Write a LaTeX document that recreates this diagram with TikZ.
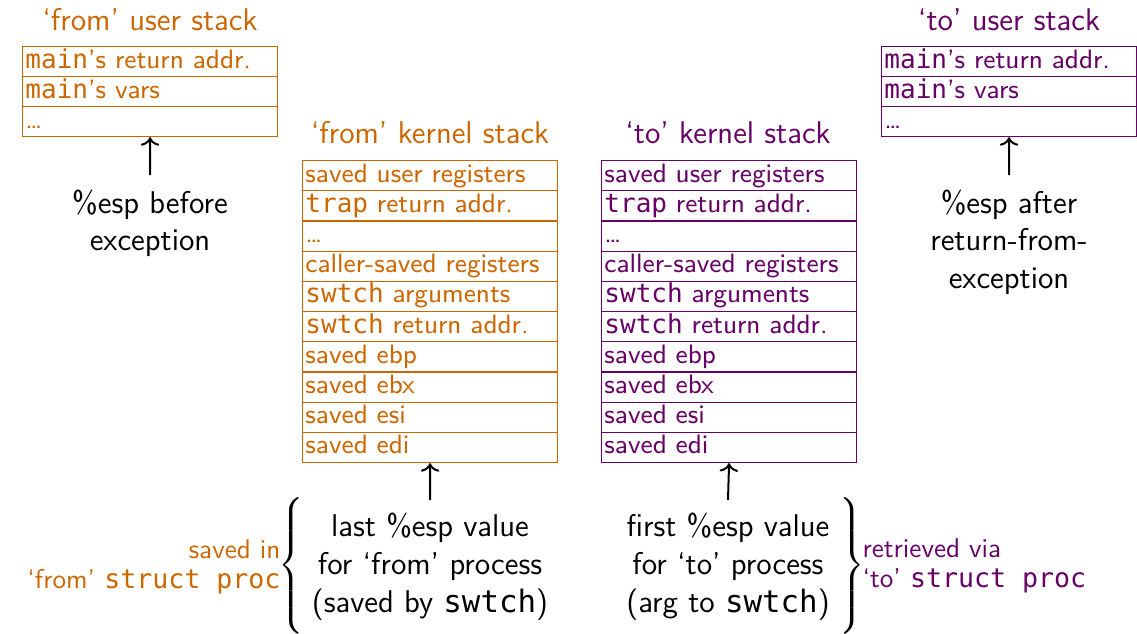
\documentclass[tikz,border=0pt]{standalone}
\usepackage{fontspec}
\setmonofont{DejaVu Sans Mono}[Scale=0.98]
\usetikzlibrary{arrows.meta}
\definecolor{fromc}{RGB}{204,102,0}
\definecolor{toc}{RGB}{102,0,102}
\begin{document}
\begin{tikzpicture}[x=0.35pt, y=-0.35pt, font=\sffamily,
  row/.style={draw, line width=0.4pt, minimum width=89.25pt, minimum height=10.5pt,
    text width=87.25pt, inner xsep=1pt, inner ysep=0pt, text height=6.5pt, text depth=2pt,
    align=left, font=\sffamily\fontsize{9.3}{11}\selectfont, anchor=north west},
  krow/.style={row, minimum height=10.57pt},
  big/.style={font=\sffamily\fontsize{11}{13.1}\selectfont, align=center, inner sep=0pt},
  side/.style={font=\sffamily\fontsize{9.5}{10.3}\selectfont, inner sep=0pt},
  ptr/.style={-{Computer Modern Rightarrow[length=3pt,width=6.5pt]}, line width=0.7pt}]
\useasboundingbox (0,0) rectangle (1137,633);

% titles
\node[big, anchor=base, text=fromc] (t1) at (150,30) {‘from’ user stack};
\node[big, anchor=base, text=fromc] (t2) at (430,143) {‘from’ kernel stack};
\node[big, anchor=base, text=toc] (t3) at (728,143) {‘to’ kernel stack};
\node[big, anchor=base, text=toc] (t4) at (1009,30) {‘to’ user stack};

% user stacks
\foreach \t [count=\i] in {\texttt{main}'s return addr., \texttt{main}'s vars, \ldots}{
  \node[row, draw=fromc, text=fromc] (fu\i) at (22,{46+30*(\i-1)}) {\t};
  \node[row, draw=toc, text=toc] (tu\i) at (881,{46+30*(\i-1)}) {\t};
}

% kernel stacks
\foreach \t [count=\i] in {saved user registers, \texttt{trap} return addr., \ldots,
  caller-saved registers, \texttt{swtch} arguments, \texttt{swtch} return addr.,
  saved ebp, saved ebx, saved esi, saved edi}{
  \node[krow, draw=fromc, text=fromc] (fk\i) at (302,{160+30.2*(\i-1)}) {\t};
  \node[krow, draw=toc, text=toc] (tk\i) at (601,{160+30.2*(\i-1)}) {\t};
}

% labels under user stacks
\node[big] (l1) at (150,223) {\%esp before\\exception};
\node[big] (l2) at (1009,242) {\%esp after\\return-from-\\exception};
\coordinate (c1) at (150,175);
\coordinate (c2) at (1009,175);
\draw[ptr] (c1) -- (fu3.south);
\draw[ptr] (c2) -- (tu3.south);

% labels under kernel stacks
\node[big, font=\sffamily\fontsize{11}{13.3}\selectfont] (b1) at (430,567) {last \%esp value\\for ‘from’ process\\(saved by \texttt{swtch})};
\node[big, font=\sffamily\fontsize{11}{13.3}\selectfont] (b2) at (728,567) {first \%esp value\\for ‘to’ process\\(arg to \texttt{swtch})};
\coordinate (c3) at (430,500);
\coordinate (c4) at (728,500);
\draw[ptr] (c3) -- (fk10.south);
\draw[ptr] (c4) -- (tk10.south);

% braces
\node[inner sep=0pt] (br1) at (293,567) {$\left\{\vrule height 22.5pt depth 22.5pt width 0pt\right.$};
\node[inner sep=0pt] (br2) at (850,567) {$\left.\vrule height 22.5pt depth 22.5pt width 0pt\right\}$};

% side labels
\node[side, anchor=east, align=right, text=fromc] (s1) at (281,567) {saved in\\‘from’ \texttt{struct proc}};
\node[side, anchor=west, align=left, text=toc] (s2) at (862,566) {retrieved via\\‘to’ \texttt{struct proc}};
\end{tikzpicture}
\end{document}
